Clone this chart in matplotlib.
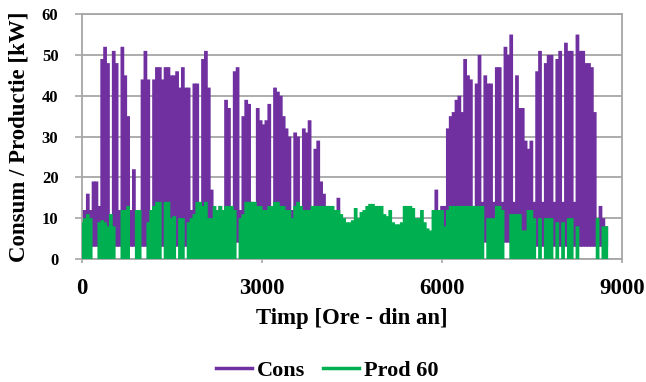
import matplotlib
matplotlib.use("Agg")
import matplotlib.pyplot as plt
from matplotlib.lines import Line2D

# Sample hours of the year (one reading every 48 h)
hours = list(range(0, 8737, 48))

# Consumption envelope per sample: peak and night minimum [kW]
cons_high = [
    12, 12, 16, 12, 19, 19, 13, 49, 52, 48, 10, 51, 48, 12, 52, 45,
    35, 12, 22, 10, 9, 44, 51, 44, 12, 44, 47, 47, 44, 47, 47, 45,
    45, 46, 42, 47, 42, 42, 12, 43, 43, 12, 49, 51, 42, 17, 12, 12,
    13, 12, 39, 37, 12, 46, 47, 12, 35, 39, 38, 14, 13, 37, 34,
    33, 34, 38, 12, 42, 41, 40, 35, 32, 30, 12, 31, 30, 12, 32, 31,
    34, 12, 27, 29, 19, 16, 13, 12, 12, 11, 15, 10, 9, 8, 8,
    7, 7, 7, 7, 7, 7, 7, 7, 7, 7, 7, 7, 7, 7, 7, 7,
    7, 7, 7, 7, 7, 7, 7, 7, 7, 6, 6, 6, 6, 17, 11, 13,
    13, 32, 35, 36, 39, 40, 36, 49, 45, 44, 13, 43, 50, 14, 45, 43,
    43, 14, 47, 47, 14, 52, 50, 55, 14, 45, 37, 37, 29, 27, 29,
    14, 46, 51, 14, 48, 50, 50, 14, 49, 51, 14, 53, 51, 51, 14, 55,
    51, 51, 48, 48, 47, 36, 9, 13, 10, 8,
]
cons_low = [
    3, 3, 3, 3, 3, 3, 3, 3, 3, 3, 3, 3, 3, 3, 3, 3,
    3, 3, 3, 3, 3, 3, 3, 3, 3, 3, 3, 3, 3, 3, 3, 3,
    3, 3, 3, 3, 3, 3, 3, 3, 3, 4, 4, 4, 4, 4, 4, 4,
    4, 4, 4, 4, 4, 4, 4, 4, 4, 4, 4, 4, 4, 4, 4,
    4, 4, 4, 4, 4, 4, 4, 4, 4, 4, 4, 4, 4, 4, 4, 4,
    5, 5, 5, 5, 5, 5, 5, 5, 5, 5, 5, 5, 5, 5, 5,
    6, 6, 6, 6, 6, 6, 6, 6, 6, 6, 6, 6, 6, 6, 6, 6,
    6, 6, 6, 6, 6, 6, 6, 6, 6, 6, 6, 6, 6, 6, 6, 6,
    5, 5, 5, 5, 5, 5, 5, 5, 5, 5, 5, 5, 5, 5, 4, 4,
    4, 4, 4, 4, 4, 4, 4, 4, 4, 4, 4, 4, 4, 4, 4,
    3, 3, 3, 3, 3, 3, 3, 3, 3, 3, 3, 3, 3, 3, 3, 3,
    3, 3, 3, 3, 3, 3, 3, 3, 3, 3,
]

# Production (60) per sample [kW]
prod = [
    9, 10, 11, 10, 0, 0, 9, 9.5, 9, 8, 11, 8, 0, 0, 12, 12,
    13, 0, 0, 12, 12, 0, 0, 9, 12, 13, 14, 14, 0, 14, 14, 10,
    10.5, 0, 10, 10, 0, 9, 10, 11, 14, 14, 13, 14, 10, 10, 13, 12,
    13, 12, 13, 13, 13, 12, 0, 10, 11, 14, 14, 14, 14, 13, 13,
    12, 12, 13, 13, 14, 14, 13, 13, 12, 12, 10, 13, 14, 13, 12, 12,
    12, 13, 13, 13, 13, 13, 13, 13, 13, 12, 12, 11, 10, 9, 9,
    9.5, 12.5, 10, 11.5, 12, 13, 13.5, 13.5, 13, 13, 13, 11, 10.5, 12, 9, 8.5,
    8.5, 9, 13, 13, 13, 12.5, 10, 10, 12, 9, 7.5, 7, 12, 12, 12, 12,
    8, 12, 13, 13, 13, 13, 13, 13, 13, 13, 13, 13, 13, 13, 0, 10,
    10, 10, 13, 13, 12, 0, 0, 11, 11, 11, 11, 7, 7, 12, 12,
    10, 0, 10, 0, 10, 10, 10, 0, 9, 0, 9, 0, 10, 10, 0, 8,
    0, 0, 0, 0, 0, 0, 10, 0, 8, 8,
]

x_ticks = [0, 3000, 6000, 9000]
y_ticks = [0, 10, 20, 30, 40, 50, 60]
series_names = ["Cons", "Prod 60"]

purple = "#7030A0"
green = "#00B050"
grid_col = "#A6A6A6"

plt.rcParams["font.family"] = ["Liberation Serif", "DejaVu Serif"]
plt.rcParams["font.weight"] = "bold"

fig = plt.figure(figsize=(6.46, 3.82), dpi=100)
ax = fig.add_axes([0.127, 0.322, 0.836, 0.641])

ax.vlines(hours, cons_low, cons_high, color=purple, lw=2.7,
          capstyle="butt", zorder=2, snap=False)
ax.vlines(hours, 0, prod, color=green, lw=2.7,
          capstyle="butt", zorder=3, snap=False)

ax.set_xlim(0, 9000)
ax.set_ylim(0, 60)
ax.set_xticks(x_ticks)
ax.set_yticks(y_ticks)
ax.yaxis.grid(True, color=grid_col, lw=1.3)
ax.set_axisbelow(True)
for s in ax.spines.values():
    s.set_color(grid_col)
    s.set_linewidth(1.3)
ax.tick_params(axis="x", colors=grid_col, length=3, width=1.2,
               labelcolor="black", labelsize=16.5, pad=11)
ax.tick_params(axis="y", colors=grid_col, length=5, width=1.2,
               labelcolor="black", labelsize=12, pad=12)
for lab in ax.get_xticklabels() + ax.get_yticklabels():
    lab.set_fontweight("bold")

ax.set_xlabel("Timp [Ore - din an]", fontsize=16.4, fontweight="bold", labelpad=6)
ax.set_ylabel("Consum / Productie [kW]", fontsize=16.5, fontweight="bold", labelpad=9)

handles = [Line2D([], [], color=purple, lw=2.5), Line2D([], [], color=green, lw=2.5)]
fig.legend(handles, series_names, loc="center", bbox_to_anchor=(0.507, 0.03),
           ncol=2, frameon=False, prop={"size": 16, "weight": "bold"},
           handlelength=1.6, handletextpad=0.25, columnspacing=0.8)

fig.savefig("out.png", dpi=100)
